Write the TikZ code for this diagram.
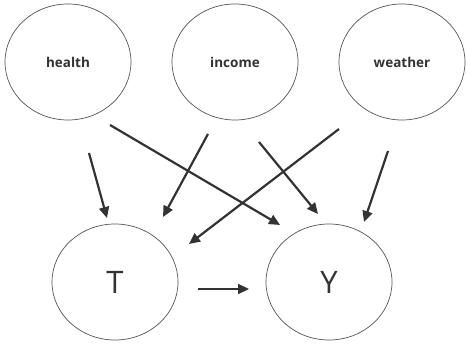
\documentclass[tikz,border=0pt]{standalone}
\usepackage{fontspec}
\setmainfont{Open Sans}
\usetikzlibrary{arrows.meta,calc,shapes.geometric}
\definecolor{ink}{HTML}{333333}
\definecolor{rim}{HTML}{555555}
\tikzset{
  var/.style={ellipse, draw=rim, line width=0.7pt, minimum width=126pt,
    minimum height=116pt, inner sep=0pt},
  cause/.style={var, font=\fontsize{13.5}{16}\selectfont\bfseries, text=ink},
  core/.style={var, font=\fontsize{31}{36}\selectfont, text=ink},
  arr/.style={draw=ink, line width=2.2pt,
    -{Triangle[length=11pt,width=10pt]}}
}
\begin{document}
\begin{tikzpicture}[x=1pt,y=-1pt]
  \useasboundingbox (0,0) rectangle (466,347);
  % confounders
  \node[cause] (health)  at (68,62)  {health};
  \node[cause] (income)  at (235,62) {income};
  \node[cause] (weather) at (402,62) {weather};
  % treatment and outcome
  \node[core] (T) at (115,282) {T};
  \node[core] (Y) at (329,282) {Y};
  % edges
  \draw[arr] ($(health)+(21,91)$)  -- ($(T)+(-8,-64)$);
  \draw[arr] ($(health)+(42,63)$)  -- ($(Y)+(-49,-57)$);
  \draw[arr] ($(income)+(-27,72)$) -- ($(T)+(48,-65)$);
  \draw[arr] ($(income)+(24,80)$)  -- ($(Y)+(-11,-68)$);
  \draw[arr] ($(weather)+(-63,67)$) -- ($(T)+(74,-38)$);
  \draw[arr] ($(weather)+(-14,89)$) -- ($(Y)+(35,-60)$);
  \draw[arr] ($(T)+(83,7)$) -- ($(Y)+(-80,7)$);
\end{tikzpicture}
\end{document}
